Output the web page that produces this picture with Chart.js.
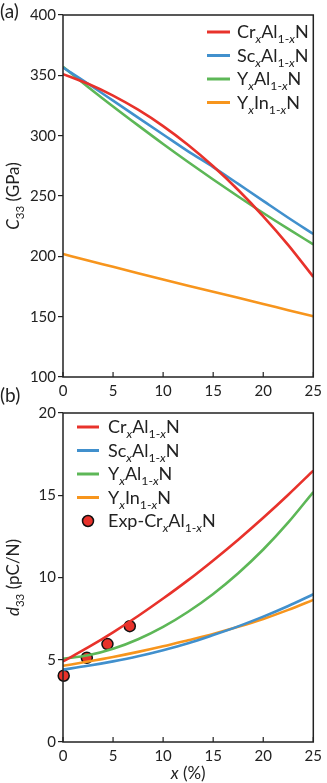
<!DOCTYPE html>
<html>
<head>
<meta charset="utf-8">
<script src="https://cdn.jsdelivr.net/npm/chart.js@4.4.1/dist/chart.umd.min.js"></script>
<style>
    body { margin: 0; background: #fff; }
    #wrap { position: relative; width: 327px; height: 783px; overflow: hidden; }
    canvas { position: absolute; left: 0; }
    #c1 { top: 0; }
    #c2 { top: 398px; }
    .tag { position: absolute; left: 0; font: 19px Lato, sans-serif; color: #222; }
</style>
</head>
<body>
<div id="wrap">
    <canvas id="c1" width="327" height="398"></canvas>
    <canvas id="c2" width="327" height="385"></canvas>
    <span class="tag" style="top:-1px">(a)</span>
    <span class="tag" style="top:383px">(b)</span>
</div>
<script>
// composition x (%)
const xs = [0, 2.5, 5, 7.5, 10, 12.5, 15, 17.5, 20, 22.5, 25];

// C33 (GPa), panel (a)
const c33Cr  = [351, 343, 333.2, 321.5, 307.9, 292.3, 274.7, 255, 233.2, 209.3, 183];
const c33Sc  = [356.5, 343, 329, 315, 301, 287, 274, 260, 246, 232, 218.5];
const c33YAl = [357, 340.4, 324.2, 308.5, 293.1, 278.2, 263.7, 249.6, 235.9, 222.7, 209.9];
const c33YIn = [202, 196.5, 191.3, 186, 180.8, 175.7, 170.7, 165.6, 160.5, 155.4, 150.3];

// d33 (pC/N), panel (b)
const d33Cr  = [4.9, 5.75, 6.67, 7.66, 8.72, 9.84, 11.04, 12.3, 13.63, 15.03, 16.5];
const d33Sc  = [4.4, 4.63, 4.9, 5.21, 5.58, 6.0, 6.5, 7.03, 7.62, 8.27, 8.98];
const d33YAl = [5.05, 5.27, 5.67, 6.25, 7.0, 7.92, 9.0, 10.26, 11.7, 13.35, 15.2];
const d33YIn = [4.63, 4.89, 5.17, 5.48, 5.82, 6.19, 6.57, 7.0, 7.48, 8.03, 8.64];

// experiment
const expX   = [0.07, 2.38, 4.44, 6.67];
const expD33 = [4.03, 5.12, 5.95, 7.04];

// {..} = subscript, *..* = italic
const nomes = ['Cr{*x*}Al{1-*x*}N', 'Sc{*x*}Al{1-*x*}N', 'Y{*x*}Al{1-*x*}N', 'Y{*x*}In{1-*x*}N'];
const nomeExp = 'Exp-Cr{*x*}Al{1-*x*}N';
const cores = ['#e8322b', '#4190cd', '#5db757', '#f7951d'];

const xTicks = [0, 5, 10, 15, 20, 25];
const FONTE = 'Lato, sans-serif';

function parseRich(txt) {
    const segs = [];
    let sub = false, it = false, buf = '';
    const push = () => { if (buf) segs.push({ t: buf, sub, it }); buf = ''; };
    for (const ch of txt) {
        if (ch === '{') { push(); sub = true; }
        else if (ch === '}') { push(); sub = false; }
        else if (ch === '*') { push(); it = !it; }
        else buf += ch;
    }
    push();
    return segs;
}

function fontFor(s, size) {
    const sz = s.sub ? size * 0.68 : size;
    return (s.it ? 'italic ' : '') + sz + 'px ' + FONTE;
}

function richWidth(ctx, txt, size) {
    let w = 0;
    parseRich(txt).forEach(s => { ctx.font = fontFor(s, size); w += ctx.measureText(s.t).width; });
    return w;
}

// desenha texto com subscritos, baseline em y
function drawRich(ctx, txt, x, y, size, align) {
    const w = richWidth(ctx, txt, size);
    let cx = align === 'center' ? x - w / 2 : x;
    ctx.textBaseline = 'alphabetic';
    ctx.textAlign = 'left';
    ctx.fillStyle = '#222';
    parseRich(txt).forEach(s => {
        ctx.font = fontFor(s, size);
        ctx.fillText(s.t, cx, s.sub ? y + size * 0.28 : y);
        cx += ctx.measureText(s.t).width;
    });
}

// moldura, ticks internos do eixo x, títulos e legenda
const extras = {
    id: 'extras',
    afterDraw(chart, args, opts) {
        const ctx = chart.ctx;
        const a = chart.chartArea;
        ctx.save();
        ctx.strokeStyle = '#222';
        ctx.lineWidth = 1.5;
        ctx.strokeRect(a.left, a.top, a.right - a.left, a.bottom - a.top);
        const sx = chart.scales.x;
        ctx.lineWidth = 1.2;
        xTicks.forEach(v => {
            const px = sx.getPixelForValue(v);
            ctx.beginPath();
            ctx.moveTo(px, a.bottom);
            ctx.lineTo(px, a.bottom - 5);
            ctx.stroke();
        });
        // título y
        ctx.save();
        ctx.translate(opts.yTitleX, (a.top + a.bottom) / 2);
        ctx.rotate(-Math.PI / 2);
        drawRich(ctx, opts.yTitle, 0, 0, 17, 'center');
        ctx.restore();
        if (opts.xTitle) {
            drawRich(ctx, opts.xTitle, (a.left + a.right) / 2, opts.xTitleY, 17, 'center');
        }
        // legenda
        const L = opts.legend;
        L.items.forEach((it, i) => {
            const y = L.y + i * L.dy;
            if (it.ponto) {
                ctx.beginPath();
                ctx.arc((L.x0 + L.x1) / 2, y, 5.5, 0, Math.PI * 2);
                ctx.fillStyle = it.cor;
                ctx.fill();
                ctx.lineWidth = 1.5;
                ctx.strokeStyle = '#111';
                ctx.stroke();
            } else {
                ctx.beginPath();
                ctx.moveTo(L.x0, y);
                ctx.lineTo(L.x1, y);
                ctx.lineWidth = 3;
                ctx.strokeStyle = it.cor;
                ctx.stroke();
            }
            drawRich(ctx, it.nome, L.tx, y + 6, 18, 'left');
        });
        ctx.restore();
    }
};

function serie(vals, i) {
    return {
        data: xs.map((x, k) => ({ x: x, y: vals[k] })),
        borderColor: cores[i],
        borderWidth: 2.6,
        pointRadius: 0,
        fill: false,
        cubicInterpolationMode: 'monotone'
    };
}

function opcoes(ymin, ymax, step, xHeight, extraOpts) {
    return {
        responsive: false,
        animation: false,
        layout: { padding: { top: 15, right: 9, left: 0, bottom: 0 } },
        plugins: { legend: { display: false }, tooltip: { enabled: false }, extras: extraOpts },
        scales: {
            x: {
                type: 'linear', min: 0, max: 25,
                afterBuildTicks: s => { s.ticks = xTicks.map(v => ({ value: v })); },
                afterFit: s => { s.height = xHeight; },
                grid: { display: false, drawTicks: false },
                border: { display: false },
                ticks: { color: '#222', padding: 5, font: { family: FONTE, size: 15 }, maxRotation: 0 }
            },
            y: {
                min: ymin, max: ymax,
                afterFit: s => { s.width = 63; },
                grid: { drawOnChartArea: false, drawTicks: true, tickLength: 5, color: '#222', lineWidth: 1.2 },
                border: { display: false },
                ticks: { stepSize: step, color: '#222', padding: 2, font: { family: FONTE, size: 15 } }
            }
        }
    };
}

new Chart(document.getElementById('c1'), {
    type: 'line',
    data: { datasets: [serie(c33Cr, 0), serie(c33Sc, 1), serie(c33YAl, 2), serie(c33YIn, 3)] },
    options: opcoes(100, 400, 50, 21, {
        yTitle: '*C*{33} (GPa)', yTitleX: 19,
        legend: { x0: 207, x1: 230, tx: 237, y: 32, dy: 23.5,
                  items: nomes.map((n, i) => ({ nome: n, cor: cores[i] })) }
    }),
    plugins: [extras]
});

new Chart(document.getElementById('c2'), {
    type: 'line',
    data: {
        datasets: [
            serie(d33Cr, 0), serie(d33Sc, 1), serie(d33YAl, 2), serie(d33YIn, 3),
            {
                data: expX.map((x, k) => ({ x: x, y: expD33[k] })),
                showLine: false,
                pointRadius: 5.5,
                pointBackgroundColor: cores[0],
                pointBorderColor: '#111',
                pointBorderWidth: 1.5,
                clip: false
            }
        ]
    },
    options: opcoes(0, 20, 5, 41, {
        yTitle: '*d*{33} (pC/N)', yTitleX: 19,
        xTitle: '*x* (%)', xTitleY: 381,
        legend: { x0: 77, x1: 99, tx: 108, y: 29, dy: 23.5,
                  items: nomes.map((n, i) => ({ nome: n, cor: cores[i] }))
                        .concat([{ nome: nomeExp, cor: cores[0], ponto: true }]) }
    }),
    plugins: [extras]
});
</script>
</body>
</html>
